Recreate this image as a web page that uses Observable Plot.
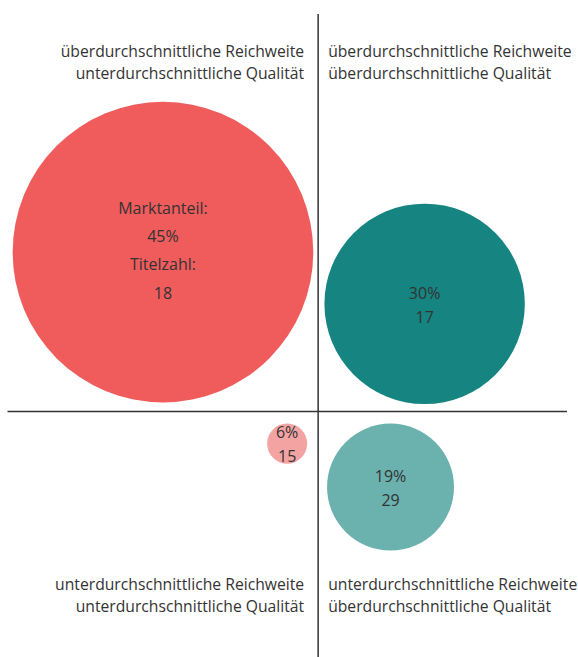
<!DOCTYPE html>
<html>
<head>
<meta charset="utf-8">
<script src="https://cdn.jsdelivr.net/npm/d3@7"></script>
<script src="https://cdn.jsdelivr.net/npm/@observablehq/plot@0.6"></script>
<style>
  html, body { margin: 0; padding: 0; background: #fff; }
  #chart svg { display: block; }
</style>
</head>
<body>
<div id="chart"></div>
<script>
// Segments (one per quadrant)
const segments = ["oben links", "oben rechts", "unten links", "unten rechts"];
// Quality index (x, relative to average = 0)
const qualitaet = [-59.6, 40.9, -11.9, 27.8];
// Reach index (y, relative to average = 0)
const reichweite = [61.3, 41.4, -12.3, -29.0];
// Market share in %
const marktanteil = [45, 30, 6, 19];
// Number of titles
const titelzahl = [18, 17, 15, 29];
const segmentColors = ["#f05c5c", "#168480", "#f4a3a3", "#6bb1ae"];

// Quadrant labels
const labelTopLeft = "überdurchschnittliche Reichweite\nunterdurchschnittliche Qualität";
const labelTopRight = "überdurchschnittliche Reichweite\nüberdurchschnittliche Qualität";
const labelBottomLeft = "unterdurchschnittliche Reichweite\nunterdurchschnittliche Qualität";
const labelBottomRight = "unterdurchschnittliche Reichweite\nüberdurchschnittliche Qualität";

const data = segments.map((s, i) => ({
  segment: s,
  x: qualitaet[i],
  y: reichweite[i],
  share: marktanteil[i],
  titles: titelzahl[i]
}));

const font = "'Open Sans', 'Noto Sans', sans-serif";
const textColor = "#333333";
const qFont = 15.7;

const chart = Plot.plot({
  width: 578,
  height: 657,
  margin: 0,
  style: { fontFamily: font, background: "#fff" },
  x: { domain: [-122, 100], axis: null },
  y: { domain: [-94.5, 158], axis: null },
  r: { type: "linear", domain: [0, 45], range: [0, 150.3] },
  color: { domain: segments, range: segmentColors },
  marks: [
    Plot.ruleX([0], { stroke: "#333", strokeWidth: 1.5, insetTop: 14 }),
    Plot.ruleY([0], { stroke: "#333", strokeWidth: 1.5, insetLeft: 7.5, insetRight: 11 }),
    Plot.dot(data, { x: "x", y: "y", r: "share", fill: "segment", stroke: null }),
    // Big circle: full labels
    Plot.text(data.filter((d, i) => i === 0), {
      x: "x", y: "y", dy: -5,
      text: d => `Marktanteil:\n${d.share}%\nTitelzahl:\n${d.titles}`,
      fontSize: 16, lineHeight: 1.78, fill: textColor, lineAnchor: "middle"
    }),
    // Other circles: short labels
    Plot.text(data.filter((d, i) => i !== 0), {
      x: "x", y: "y", dy: -1,
      text: d => `${d.share}%\n${d.titles}`,
      fontSize: 16, lineHeight: 1.5, fill: textColor, lineAnchor: "middle"
    }),
    // Quadrant labels
    Plot.text([labelTopLeft], { x: () => 0, text: d => d, frameAnchor: "top", dy: 60.5, dx: -14, textAnchor: "end", lineAnchor: "middle", fontSize: qFont, lineHeight: 1.4, fill: textColor }),
    Plot.text([labelTopRight], { x: () => 0, text: d => d, frameAnchor: "top", dy: 60.5, dx: 10, textAnchor: "start", lineAnchor: "middle", fontSize: qFont, lineHeight: 1.4, fill: textColor }),
    Plot.text([labelBottomLeft], { x: () => 0, text: d => d, frameAnchor: "bottom", dy: -63.5, dx: -14, textAnchor: "end", lineAnchor: "middle", fontSize: qFont, lineHeight: 1.4, fill: textColor }),
    Plot.text([labelBottomRight], { x: () => 0, text: d => d, frameAnchor: "bottom", dy: -63.5, dx: 10, textAnchor: "start", lineAnchor: "middle", fontSize: qFont, lineHeight: 1.4, fill: textColor })
  ]
});

document.getElementById("chart").appendChild(chart);
</script>
</body>
</html>
